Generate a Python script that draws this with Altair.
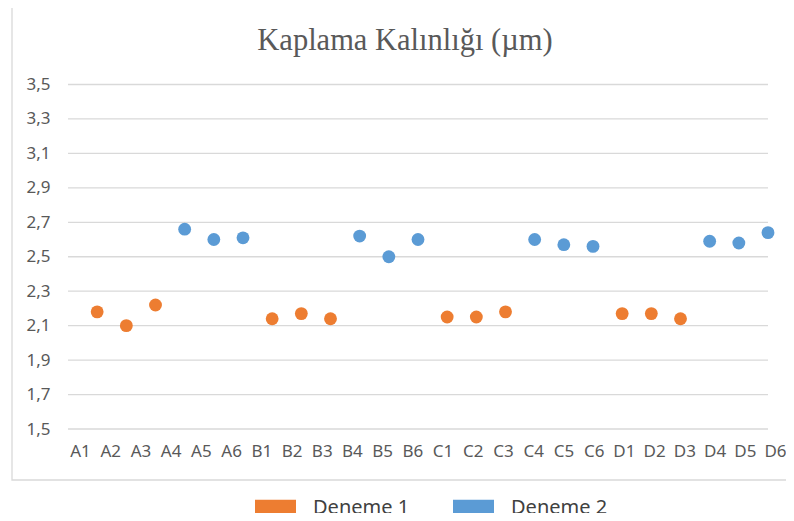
import altair as alt
import pandas as pd

# Sample labels
numuneler = ["A1", "A2", "A3", "A4", "A5", "A6",
             "B1", "B2", "B3", "B4", "B5", "B6",
             "C1", "C2", "C3", "C4", "C5", "C6",
             "D1", "D2", "D3", "D4", "D5", "D6"]

# Deneme 1 values (A1-A3, B1-B3, C1-C3, D1-D3)
deneme1_numune = ["A1", "A2", "A3", "B1", "B2", "B3", "C1", "C2", "C3", "D1", "D2", "D3"]
deneme1_deger = [2.18, 2.10, 2.22, 2.14, 2.17, 2.14, 2.15, 2.15, 2.18, 2.17, 2.17, 2.14]

# Deneme 2 values (A4-A6, B4-B6, C4-C6, D4-D6)
deneme2_numune = ["A4", "A5", "A6", "B4", "B5", "B6", "C4", "C5", "C6", "D4", "D5", "D6"]
deneme2_deger = [2.66, 2.60, 2.61, 2.62, 2.50, 2.60, 2.60, 2.57, 2.56, 2.59, 2.58, 2.64]

seriler = ["Deneme 1", "Deneme 2"]
renkler = ["#ED7D31", "#5B9BD5"]
y_ticks = [1.5, 1.7, 1.9, 2.1, 2.3, 2.5, 2.7, 2.9, 3.1, 3.3, 3.5]
baslik = "Kaplama Kalınlığı (µm)"

df = pd.concat([
    pd.DataFrame({"Numune": deneme1_numune, "Deger": deneme1_deger, "Seri": seriler[0]}),
    pd.DataFrame({"Numune": deneme2_numune, "Deger": deneme2_deger, "Seri": seriler[1]}),
], ignore_index=True)
df_lab = pd.DataFrame({"Numune": numuneler})
df_grid = pd.DataFrame({"Deger": y_ticks})

W, H = 700, 344.5
GRAY = "#595959"
yscale = alt.Scale(domain=[1.5, 3.5], nice=False, zero=False)


def y_axis():
    return alt.Axis(values=y_ticks, title=None, grid=False, domain=False, ticks=False,
                    labelPadding=18, labelFont="Noto Sans", labelFontSize=17,
                    labelColor=GRAY,
                    labelExpr="replace(format(datum.value, '.1f'), '.', ',')")


grid = alt.Chart(df_grid).mark_rule(color="#D9D9D9", strokeWidth=1.3).encode(
    y=alt.Y("Deger:Q", scale=yscale, axis=y_axis()),
)

points = alt.Chart(df).mark_circle(size=165, opacity=1).encode(
    x=alt.X("Numune:N", sort=numuneler,
            scale=alt.Scale(type="point", domain=numuneler, range=[W / 24, W], padding=0),
            axis=None),
    y=alt.Y("Deger:Q", scale=yscale, axis=y_axis()),
    color=alt.Color("Seri:N",
                    scale=alt.Scale(domain=seriler, range=renkler),
                    legend=alt.Legend(title=None, orient="none", direction="horizontal",
                                      legendX=187, legendY=403, padding=0,
                                      symbolType="M-1,-0.415H1V0.415H-1Z",
                                      symbolSize=1681, symbolStrokeWidth=0,
                                      labelFont="Noto Sans", labelFontSize=20,
                                      labelColor="#404040", labelOffset=17,
                                      columnPadding=43)),
)

labels = alt.Chart(df_lab).mark_point(opacity=0).encode(
    x=alt.X("Numune:N", sort=numuneler,
            scale=alt.Scale(type="point", domain=numuneler, range=[12, 707], padding=0),
            axis=alt.Axis(orient="bottom", title=None, domain=False, ticks=False, grid=False,
                          labelAngle=0, labelPadding=14, labelFont="Noto Sans",
                          labelFontSize=17, labelColor=GRAY)),
)

border = alt.Chart(alt.Data(values=[{}])).mark_rect(
    fill=None, stroke="#D9D9D9", strokeWidth=1.3
).encode(
    x=alt.value(-56), x2=alt.value(740), y=alt.value(-82.5), y2=alt.value(395.5)
)

title = alt.Chart(alt.Data(values=[{"t": baslik}])).mark_text(
    font="Liberation Serif", fontSize=30.5, color=GRAY, align="center", baseline="alphabetic"
).encode(
    text="t:N", x=alt.value(337), y=alt.value(-34.5)
)

chart = alt.layer(border, grid, points, labels, title).resolve_scale(x="independent").properties(
    width=W, height=H,
    autosize=alt.AutoSizeParams(type="none"),
    padding={"left": 60, "top": 76.5, "right": 18, "bottom": 84},
).configure_view(stroke=None)

chart.save("out.html", embed_options={"renderer": "svg", "actions": False})
